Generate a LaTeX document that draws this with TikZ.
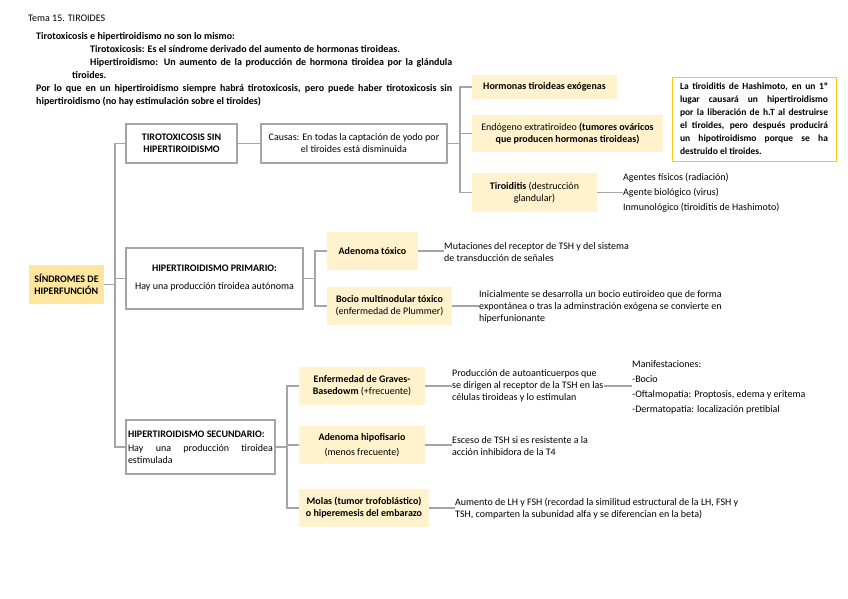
\documentclass[tikz,border=0pt]{standalone}
\usepackage{fontspec}
\setmainfont{Carlito}
\usetikzlibrary{calc}
\definecolor{linegray}{RGB}{165,165,165}
\definecolor{goldfill}{RGB}{255,230,160}
\definecolor{creamfill}{RGB}{255,242,204}
\definecolor{goldline}{RGB}{255,196,30}
\newcommand{\jline}[2]{\makebox[#1][s]{#2}}

\begin{document}
\begin{tikzpicture}[x=1pt, y=-1pt,
    every node/.style={font=\fontsize{10}{12}\selectfont},
    hub/.style={rectangle, fill=goldfill, inner sep=2pt, align=left,
      font=\fontsize{10}{12.5}\selectfont\bfseries},
    box/.style={rectangle, draw=linegray, line width=1.1pt, fill=white, align=center},
    cream/.style={rectangle, fill=creamfill, align=center},
    note/.style={rectangle, draw=goldline, line width=0.9pt, fill=white, align=left,
      font=\fontsize{9.5}{13}\selectfont\bfseries},
    txt/.style={inner sep=0pt, anchor=west, align=left},
    head/.style={inner sep=0pt, anchor=base west, font=\fontsize{10}{12}\selectfont\bfseries},
    link/.style={draw=linegray, line width=1.1pt}]
  \useasboundingbox (0,0) rectangle (848,599);

  % encabezado
  \node[head, font=\fontsize{10}{12}\selectfont] (title) at (28,22) {Tema 15. TIROIDES};
  \node[head] (nota1) at (36,40) {Tirotoxicosis e hipertiroidismo no son lo mismo:};
  \node[head] (nota2) at (90,53) {Tirotoxicosis: Es el síndrome derivado del aumento de hormonas tiroideas.};
  \node[head] (nota3) at (90,66) {\jline{362pt}{Hipertiroidismo: Un aumento de la producción de hormona tiroidea por la glándula}};
  \node[head] (nota4) at (72,79) {tiroides.};
  \node[head] (nota5) at (36,92) {\jline{416pt}{Por lo que en un hipertiroidismo siempre habrá tirotoxicosis, pero puede haber tirotoxicosis sin}};
  \node[head] (nota6) at (36,105) {hipertiroidismo (no hay estimulación sobre el tiroides)};

  % raiz
  \node[hub, minimum width=75pt, minimum height=39pt] (hub) at (66.5,284.5) {SÍNDROMES DE\\HIPERFUNCIÓN};

  % tirotoxicosis sin hipertiroidismo
  \node[box, minimum width=111pt, minimum height=39pt, font=\fontsize{10}{12}\selectfont\bfseries]
    (tirotox) at (181.5,143.5) {TIROTOXICOSIS SIN\\HIPERTIROIDISMO};
  \node[box, minimum width=186pt, minimum height=39pt] (causas) at (354,143.5)
    {Causas: En todas la captación de yodo por\\el tiroides está disminuida};
  \node[cream, minimum width=145pt, minimum height=24pt] (exogenas) at (544.5,87)
    {\textbf{Hormonas tiroideas exógenas}};
  \node[cream, minimum width=191pt, minimum height=37pt] (endogeno) at (567.5,133.5)
    {Endógeno extratiroideo \textbf{(tumores ováricos}\\\textbf{que producen hormonas tiroideas)}};
  \node[cream, minimum width=125pt, minimum height=39pt] (tiroiditis) at (534.5,192.5)
    {\textbf{Tiroiditis} (destrucción\\glandular)};
  \node[txt] (agentes) at (623,192.5)
    {Agentes físicos (radiación)\\[3pt]Agente biológico (virus)\\[3pt]Inmunológico (tiroiditis de Hashimoto)};
  \node[note, minimum width=164pt, minimum height=84pt] (hashimoto) at (754,119)
    {\jline{148pt}{La tiroiditis de Hashimoto, en un 1º}\\
     \jline{148pt}{lugar causará un hipertiroidismo}\\
     \jline{148pt}{por la liberación de h.T al destruirse}\\
     \jline{148pt}{el tiroides, pero después producirá}\\
     \jline{148pt}{un hipotiroidismo porque se ha}\\
     destruido el tiroides.};

  % hipertiroidismo primario
  \node[box, minimum width=177pt, minimum height=61pt] (primario) at (214.5,278.5)
    {\textbf{HIPERTIROIDISMO PRIMARIO:}\\[6pt]Hay una producción tiroidea autónoma};
  \node[cream, minimum width=91pt, minimum height=38pt] (adenoma) at (372.5,251)
    {\textbf{Adenoma tóxico}};
  \node[txt] (mutaciones) at (444,252)
    {Mutaciones del receptor de TSH y del sistema\\de transducción de señales};
  \node[cream, minimum width=125pt, minimum height=38pt] (bocio) at (389.5,306)
    {\textbf{Bocio multinodular tóxico}\\(enfermedad de Plummer)};
  \node[txt] (inicial) at (479,307)
    {Inicialmente se desarrolla un bocio eutiroideo que de forma\\expontánea o tras la adminstración exógena se convierte en\\hiperfunionante};

  % hipertiroidismo secundario
  \node[box, minimum width=149pt, minimum height=54pt, inner sep=2pt, align=left] (secundario) at (200.5,447)
    {\textbf{HIPERTIROIDISMO SECUNDARIO:}\\[2pt]\jline{145pt}{Hay una producción tiroidea}\\estimulada};
  \node[cream, minimum width=126pt, minimum height=38pt] (graves) at (362,386)
    {\textbf{Enfermedad de Graves-}\\\textbf{Basedowm} (+frecuente)};
  \node[txt] (produccion) at (452,386)
    {Producción de autoanticuerpos que\\se dirigen al receptor de la TSH en las\\células tiroideas y lo estimulan};
  \node[txt] (manifest) at (632,387.5)
    {Manifestaciones:\\[3pt]-Bocio\\[3pt]-Oftalmopatía: Proptosis, edema y eritema\\[3pt]-Dermatopatía: localización pretibial};
  \node[cream, minimum width=126pt, minimum height=38pt] (hipofisario) at (362,445)
    {\textbf{Adenoma hipofisario}\\[3pt](menos frecuente)};
  \node[txt] (esceso) at (452,446)
    {Esceso de TSH si es resistente a la\\acción inhibidora de la T4};
  \node[cream, minimum width=130pt, minimum height=38pt] (molas) at (364,508)
    {\textbf{Molas (tumor trofoblástico)}\\\textbf{o hiperemesis del embarazo}};
  \node[txt] (aumento) at (455,509)
    {Aumento de LH y FSH (recordad la similitud estructural de la LH, FSH y\\TSH, comparten la subunidad alfa y se diferencian en la beta)};

  % conectores
  \coordinate (jmain) at (115,284.5);
  \coordinate (jcausas) at (460,143.5);
  \coordinate (jprim) at (315,278.5);
  \coordinate (jsec) at (287,447);
  \draw[link] (hub.east) -- (jmain);
  \draw[link] (jmain) |- (tirotox.west);
  \draw[link] (jmain) |- (primario.west);
  \draw[link] (jmain) |- (secundario.west);
  \draw[link] (tirotox) -- (causas);
  \draw[link] (causas.east) -- (jcausas);
  \draw[link] (jcausas) |- (exogenas.west);
  \draw[link] (jcausas) |- (endogeno.west);
  \draw[link] (jcausas) |- (tiroiditis.west);
  \draw[link] (tiroiditis.east) -- (tiroiditis.east -| agentes.west);
  \draw[link] (primario.east) -- (jprim);
  \draw[link] (jprim) |- (adenoma.west);
  \draw[link] (jprim) |- (bocio.west);
  \draw[link] (adenoma.east) -- (adenoma.east -| mutaciones.west);
  \draw[link] (bocio.east) -- (bocio.east -| inicial.west);
  \draw[link] (secundario.east) -- (jsec);
  \draw[link] (jsec) |- (graves.west);
  \draw[link] (jsec) |- (hipofisario.west);
  \draw[link] (jsec) |- (molas.west);
  \draw[link] (graves.east) -- (graves.east -| produccion.west);
  \draw[link] (graves.east -| produccion.east) -- (graves.east -| manifest.west);
  \draw[link] (hipofisario.east) -- (hipofisario.east -| esceso.west);
  \draw[link] (molas.east) -- (molas.east -| aumento.west);
\end{tikzpicture}
\end{document}
